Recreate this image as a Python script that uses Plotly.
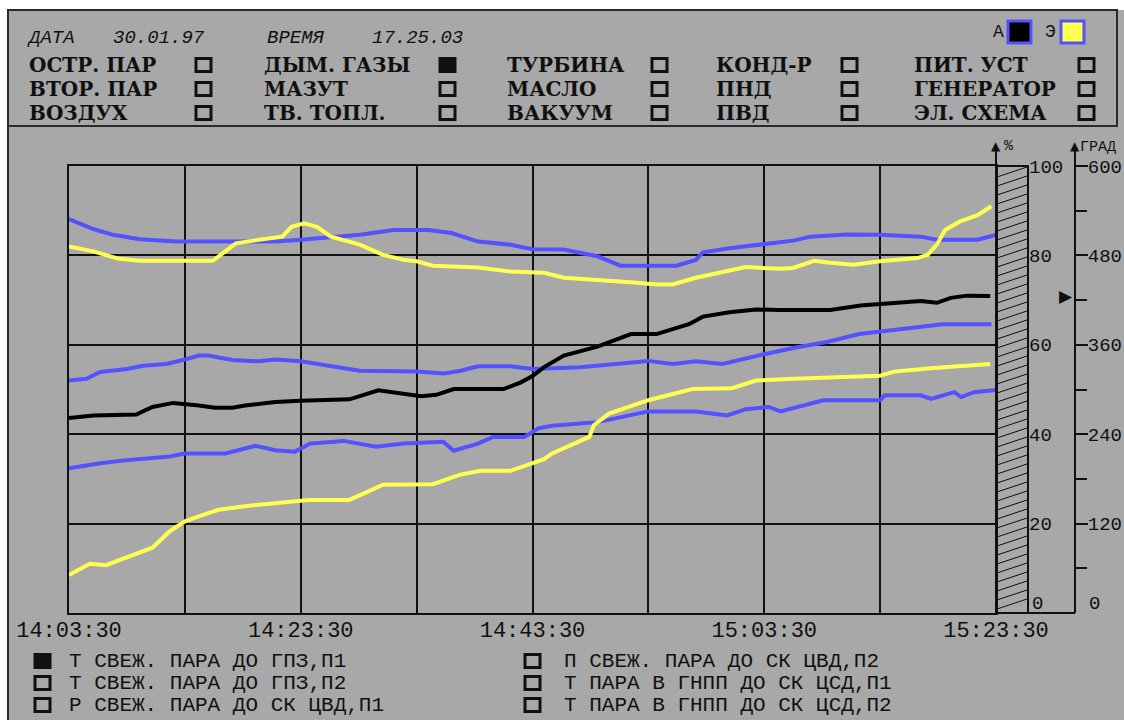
import plotly.graph_objects as go

# ---------------- trend data (minutes after 14:03:30, % of scale) ----------------
t_black = [0, 2.1, 5.8, 7.2, 9, 10, 11.2, 12.6, 14.1, 15.2, 17.8, 20, 24.2, 26.7, 28, 30.4, 31.7,
           33.2, 37.5, 39, 40, 41, 42.7, 45.6, 48.5, 50.7, 53.5, 54.7, 57, 59.3, 61.3, 65.7, 68.3,
           71.2, 73.5, 74.9, 76.1, 77.5, 79.5]
v_black = [43.6, 44.2, 44.4, 46.1, 47.0, 46.8, 46.4, 45.9, 45.9, 46.4, 47.2, 47.5, 47.8, 49.8, 49.4,
           48.5, 48.8, 50.1, 50.1, 51.6, 53.0, 55.0, 57.6, 59.6, 62.4, 62.4, 64.6, 66.3, 67.3, 67.9,
           67.8, 67.8, 68.8, 69.4, 69.8, 69.4, 70.5, 71.0, 70.9]

t_yellow_hi = [0, 2.1, 4.2, 6.1, 9.2, 12.4, 13.5, 14.4, 16.4, 18.4, 19.2, 20.3, 21.4, 22.6, 25.1,
               27.1, 28.9, 30, 31.4, 35.3, 38.1, 41, 42.7, 45.6, 48.5, 50.7, 52.1, 54.1, 56.4, 58.4,
               61.3, 62.5, 64.3, 65.5, 67.7, 70, 73.2, 74.1, 74.9, 75.6, 76.9, 78.4, 79.6]
v_yellow_hi = [82.0, 80.9, 79.3, 78.8, 78.8, 78.8, 80.9, 82.7, 83.5, 84.2, 86.4, 87.2, 86.4, 84.2,
               82.4, 80.1, 79.0, 78.7, 77.7, 77.3, 76.4, 76.1, 75.0, 74.6, 74.0, 73.5, 73.5, 75.0,
               76.4, 77.4, 77.0, 77.2, 78.8, 78.4, 77.9, 78.7, 79.4, 80.1, 82.4, 85.7, 87.6, 89.0, 91.0]

t_yellow_lo = [0, 1.8, 3.2, 5, 7.2, 8.7, 10, 11.2, 12.9, 15.2, 17.8, 20.7, 24.2, 27.1, 31.4, 33.7,
               35.5, 38.1, 41, 41.7, 44.9, 45.3, 46.6, 50, 53.8, 57.2, 59.3, 62.5, 70, 71.2, 74.1,
               76.9, 79.5]
v_yellow_lo = [8.5, 11.0, 10.7, 12.5, 14.6, 18.3, 20.5, 21.6, 23.1, 23.9, 24.6, 25.3, 25.3, 28.7,
               28.8, 30.9, 31.8, 31.8, 34.4, 35.7, 39.4, 42.0, 44.6, 47.6, 50.1, 50.3, 52.0, 52.4,
               53.1, 54.0, 54.7, 55.3, 55.7]

t_blue_hi = [0, 2.1, 3.8, 6.1, 9.2, 12.1, 14.9, 17.8, 20, 22.2, 25.1, 28, 31, 33, 35.3, 38.1, 40,
             42.7, 45.6, 47.6, 50, 52.4, 54.1, 54.7, 57, 60, 62.5, 64, 67.1, 70, 73.5, 74.9, 78.4, 80]
v_blue_hi = [88.1, 85.9, 84.6, 83.6, 83.1, 83.1, 83.3, 83.1, 83.5, 83.9, 84.6, 85.7, 85.7, 85.0,
             83.1, 82.4, 81.4, 81.3, 79.8, 77.7, 77.6, 77.7, 79.0, 80.7, 81.6, 82.6, 83.3, 84.2,
             84.7, 84.6, 84.2, 83.5, 83.5, 84.6]

t_blue_mid = [0, 1.5, 2.7, 5, 6.4, 8.4, 10, 11.2, 12, 14.1, 16.4, 17.8, 20, 22.2, 25.1, 30, 32.4,
              33.8, 35.3, 38.1, 40, 44.1, 47, 50, 52.1, 54.1, 56.4, 58.4, 60, 62.5, 65.5, 68.2, 70,
              72.5, 75.4, 79.6]
v_blue_mid = [52.0, 52.4, 53.9, 54.6, 55.3, 55.7, 56.7, 57.6, 57.6, 56.6, 56.3, 56.7, 56.3, 55.3,
              54.2, 54.0, 53.6, 54.2, 55.2, 55.2, 54.6, 55.0, 55.7, 56.4, 55.7, 56.3, 55.7, 56.8,
              57.9, 59.3, 60.7, 62.4, 62.9, 63.6, 64.6, 64.6]

t_blue_lo = [0, 2.7, 5, 8.7, 10, 13.5, 16.1, 17.8, 19.5, 20.8, 23.7, 26.5, 28.9, 32.3, 33.2, 35.3,
             36.6, 39.3, 40.5, 41.7, 45.6, 50, 54.1, 56.8, 58.4, 60.4, 61.4, 65.1, 70, 70.4, 73.5,
             74.4, 76.4, 77, 78.1, 80]
v_blue_lo = [32.4, 33.5, 34.2, 35.0, 35.7, 35.7, 37.4, 36.4, 36.1, 37.9, 38.5, 37.2, 37.9, 38.3,
             36.3, 37.9, 39.4, 39.4, 41.3, 41.9, 42.7, 45.1, 45.1, 44.2, 45.6, 46.1, 45.1, 47.6,
             47.6, 48.7, 48.7, 47.9, 49.4, 48.3, 49.4, 49.9]

# ---------------- axis labels ----------------
x_tick_vals = [0, 10, 20, 30, 40, 50, 60, 70, 80]
x_tick_text = ["14:03:30", "", "14:23:30", "", "14:43:30", "", "15:03:30", "", "15:23:30"]
pct_grid = [0, 20, 40, 60, 80, 100]
pct_labels = [20, 40, 60, 80, 100]
grad_ticks = [120, 240, 360, 480, 600]
grad_minor = [60, 180, 300, 420, 540]
zero_label = "0"
current_temp = 425  # pointer on the ГРАД scale

# ---------------- screen texts ----------------
date_label, date_value = "ДАТА", "30.01.97"
time_label, time_value = "ВРЕМЯ", "17.25.03"
menu_cols = [
    ["ОСТР. ПАР", "ВТОР. ПАР", "ВОЗДУХ"],
    ["ДЫМ. ГАЗЫ", "МАЗУТ", "ТВ. ТОПЛ."],
    ["ТУРБИНА", "МАСЛО", "ВАКУУМ"],
    ["КОНД-Р", "ПНД", "ПВД"],
    ["ПИТ. УСТ", "ГЕНЕРАТОР", "ЭЛ. СХЕМА"],
]
menu_active = "ДЫМ. ГАЗЫ"
legend_left = ["Т СВЕЖ. ПАРА ДО ГПЗ,П1", "Т СВЕЖ. ПАРА ДО ГПЗ,П2", "Р СВЕЖ. ПАРА ДО СК ЦВД,П1"]
legend_right = ["П СВЕЖ. ПАРА ДО СК ЦВД,П2", "Т ПАРА В ГНПП ДО СК ЦСД,П1", "Т ПАРА В ГНПП ДО СК ЦСД,П2"]
legend_active = "Т СВЕЖ. ПАРА ДО ГПЗ,П1"

# ---------------- style ----------------
W, H = 1124, 720
BG = "#a8a8a8"
BLUE = "#5252ff"
YELLOW = "#ffff50"
INK = "#101010"
PIX = "Liberation Mono"
SERIF = "DejaVu Serif"


def px(x):
    return x / W


def py(y):
    return 1 - y / H


PLOT_L, PLOT_R, PLOT_T, PLOT_B = 69, 996, 166, 613
BAR_R = 1028
GRAD_X = 1075

fig = go.Figure()

series = [
    ("П СВЕЖ. ПАРА ДО СК ЦВД,П2", t_blue_hi, v_blue_hi, BLUE),
    ("Т ПАРА В ГНПП ДО СК ЦСД,П1", t_blue_mid, v_blue_mid, BLUE),
    ("Т ПАРА В ГНПП ДО СК ЦСД,П2", t_blue_lo, v_blue_lo, BLUE),
    ("Т СВЕЖ. ПАРА ДО ГПЗ,П2", t_yellow_hi, v_yellow_hi, YELLOW),
    ("Р СВЕЖ. ПАРА ДО СК ЦВД,П1", t_yellow_lo, v_yellow_lo, YELLOW),
    ("Т СВЕЖ. ПАРА ДО ГПЗ,П1", t_black, v_black, "#000000"),
]
for name, t, v, color in series:
    fig.add_trace(go.Scatter(x=t, y=v, mode="lines", name=name, showlegend=False,
                             line=dict(color=color, width=4), hoverinfo="skip"))

# placeholders so the side scales get drawn
fig.add_trace(go.Scatter(x=[None], y=[None], yaxis="y2", showlegend=False))
fig.add_trace(go.Scatter(x=[None], y=[None], yaxis="y3", showlegend=False))

shapes = []
annotations = []


def check_box(x0, yc, filled):
    shapes.append(dict(type="rect", xref="paper", yref="paper",
                       x0=px(x0), x1=px(x0 + 15), y0=py(yc + 6.5), y1=py(yc - 6.5),
                       fillcolor=INK if filled else "rgba(0,0,0,0)",
                       line=dict(color=INK, width=3)))


# panel background and frames
shapes.append(dict(type="rect", xref="paper", yref="paper", layer="below",
                   x0=px(8), x1=px(W), y0=py(H), y1=py(10),
                   fillcolor=BG, line=dict(width=0)))
shapes.append(dict(type="rect", xref="paper", yref="paper", layer="below",
                   x0=px(8), x1=px(1117), y0=py(126), y1=py(10),
                   fillcolor="rgba(0,0,0,0)", line=dict(color="#2a2a2a", width=2)))
shapes.append(dict(type="line", xref="paper", yref="paper",
                   x0=px(8), x1=px(8), y0=py(126), y1=py(H), line=dict(color="#2a2a2a", width=2)))

# hatched bar to the right of the trend field
shapes.append(dict(type="rect", xref="paper", yref="paper",
                   x0=px(PLOT_R), x1=px(BAR_R), y0=py(PLOT_B), y1=py(PLOT_T),
                   fillcolor="rgba(0,0,0,0)", line=dict(color=INK, width=2)))
for yy in range(PLOT_T + 11, PLOT_B + 1, 9):
    shapes.append(dict(type="line", xref="paper", yref="paper",
                       x0=px(PLOT_R + 1), x1=px(BAR_R - 1), y0=py(yy), y1=py(yy - 10),
                       line=dict(color=INK, width=1)))

# base line under the bar and axis stems above the field
shapes.append(dict(type="line", xref="paper", yref="paper",
                   x0=px(PLOT_R), x1=px(GRAD_X), y0=py(PLOT_B), y1=py(PLOT_B),
                   line=dict(color=INK, width=2)))
for xx in (PLOT_R, GRAD_X):
    shapes.append(dict(type="line", xref="paper", yref="paper",
                       x0=px(xx), x1=px(xx), y0=py(PLOT_T), y1=py(150),
                       line=dict(color=INK, width=2)))
    annotations.append(dict(text="▲", x=px(xx), y=py(146), xref="paper", yref="paper",
                            showarrow=False, xanchor="center", yanchor="middle",
                            font=dict(family="DejaVu Sans", size=12, color=INK)))
annotations.append(dict(text="%", x=px(PLOT_R + 6), y=py(147), xref="paper", yref="paper",
                        showarrow=False, xanchor="left", yanchor="middle",
                        font=dict(family=PIX, size=15, color=INK)))
annotations.append(dict(text="ГРАД", x=px(GRAD_X + 3), y=py(148), xref="paper", yref="paper",
                        showarrow=False, xanchor="left", yanchor="middle",
                        font=dict(family=PIX, size=15, color=INK)))
# zero labels of both scales sit just above the base line
for x0 in (BAR_R + 2, GRAD_X + 12):
    annotations.append(dict(text=zero_label, x=px(x0), y=py(604), xref="paper", yref="paper",
                            showarrow=False, xanchor="left", yanchor="middle",
                            font=dict(family=PIX, size=19, color=INK)))
annotations.append(dict(text="▶", x=px(GRAD_X - 9), y=current_temp, xref="paper", yref="y3",
                        showarrow=False, xanchor="center", yanchor="middle",
                        font=dict(family="DejaVu Sans", size=17, color=INK)))

# header: date and time
for txt, x0 in ((date_label, 25), (date_value, 111), (time_label, 265), (time_value, 370)):
    annotations.append(dict(text=f"<i>{txt}</i>", x=px(x0), y=py(38), xref="paper", yref="paper",
                            showarrow=False, xanchor="left", yanchor="middle",
                            font=dict(family=PIX, size=19, color=INK)))

# header: А / Э indicators
for txt, xt in (("А", 998), ("Э", 1050)):
    annotations.append(dict(text=txt, x=px(xt), y=py(32), xref="paper", yref="paper",
                            showarrow=False, xanchor="center", yanchor="middle",
                            font=dict(family=PIX, size=18, color=INK)))
for x0, fill in ((1008, "#000000"), (1061, YELLOW)):
    shapes.append(dict(type="rect", xref="paper", yref="paper",
                       x0=px(x0), x1=px(x0 + 23), y0=py(43), y1=py(21),
                       fillcolor=fill, line=dict(color=BLUE, width=3)))

# header: menu with check boxes
menu_x = [27, 262, 505, 714, 912]
box_x = [196, 440, 652, 842, 1079]
row_y = [65, 89, 113]
for col, items in enumerate(menu_cols):
    for row, item in enumerate(items):
        annotations.append(dict(text=f"<b>{item}</b>", x=px(menu_x[col]), y=py(row_y[row]),
                                xref="paper", yref="paper", showarrow=False,
                                xanchor="left", yanchor="middle",
                                font=dict(family=SERIF, size=20, color=INK)))
        check_box(box_x[col], row_y[row], item == menu_active)

# bottom legend
leg_rows = [661, 683, 705]
for names, bx, tx in ((legend_left, 35, 67), (legend_right, 525, 562)):
    for row, name in enumerate(names):
        yc = leg_rows[row]
        check_box(bx, yc, name == legend_active)
        annotations.append(dict(text=name, x=px(tx), y=py(yc), xref="paper", yref="paper",
                                showarrow=False, xanchor="left", yanchor="middle",
                                font=dict(family=PIX, size=21, color=INK)))

y_dom = [py(PLOT_B), py(PLOT_T)]
fig.update_layout(
    template="none",
    width=W, height=H,
    margin=dict(l=0, r=0, t=0, b=0, pad=0, autoexpand=False),
    paper_bgcolor="white",
    plot_bgcolor="rgba(0,0,0,0)",
    showlegend=False,
    shapes=shapes,
    annotations=annotations,
    xaxis=dict(domain=[px(PLOT_L), px(PLOT_R)], range=[0, 80], automargin=False,
               tickvals=x_tick_vals, ticktext=x_tick_text, ticks="", ticklabelstandoff=-4,
               showgrid=True, gridcolor=INK, gridwidth=2, zeroline=False,
               showline=True, linecolor=INK, linewidth=2, mirror=True,
               tickfont=dict(family=PIX, size=22, color=INK)),
    yaxis=dict(domain=y_dom, range=[0, 100], tickvals=pct_grid, showticklabels=False,
               automargin=False, ticks="", showgrid=True, gridcolor=INK, gridwidth=2,
               zeroline=False, showline=True, linecolor=INK, linewidth=2, mirror=True),
    yaxis2=dict(domain=y_dom, range=[0, 100], overlaying="y", side="right", anchor="free",
                position=px(BAR_R), tickvals=pct_labels, ticks="", showgrid=False,
                automargin=False, zeroline=False, showline=False,
                tickfont=dict(family=PIX, size=19, color=INK)),
    yaxis3=dict(domain=y_dom, range=[0, 600], overlaying="y", side="right", anchor="free",
                position=px(GRAD_X), tickvals=grad_ticks, ticks="outside", ticklen=12,
                tickwidth=2, tickcolor=INK, showgrid=False, zeroline=False, automargin=False,
                showline=True, linecolor=INK, linewidth=2, ticklabelstandoff=-4,
                minor=dict(tickvals=grad_minor, ticks="outside", ticklen=11,
                           tickwidth=2, tickcolor=INK),
                tickfont=dict(family=PIX, size=19, color=INK)),
)

fig.write_html("out.html")
